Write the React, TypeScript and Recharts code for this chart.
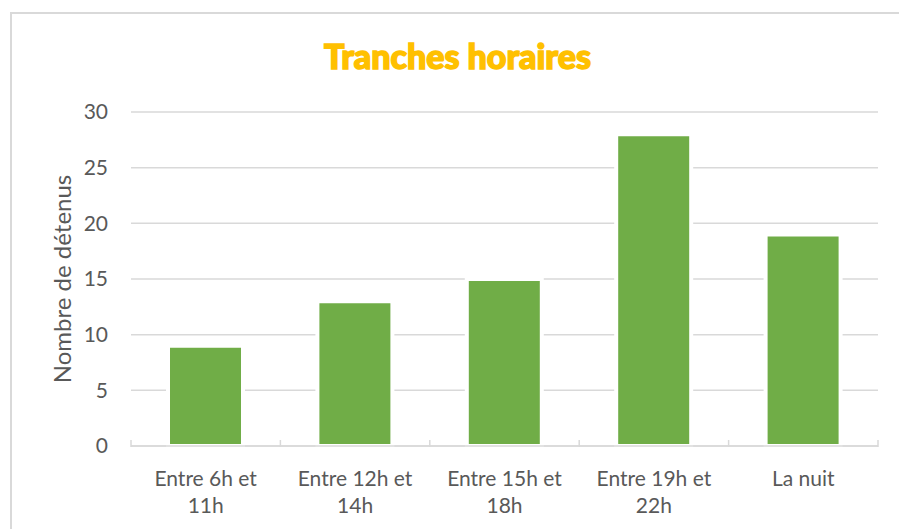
import { Bar, BarChart, CartesianGrid, XAxis, YAxis } from "recharts";

const categories = ["Entre 6h et 11h", "Entre 12h et 14h", "Entre 15h et 18h", "Entre 19h et 22h", "La nuit"];
const detenus = [9, 13, 15, 28, 19];
const yTicks = [0, 5, 10, 15, 20, 25, 30];

const data = categories.map((c, i) => ({ name: c, v: detenus[i] }));

const W = 899;
const H = 529;
const PLOT_LEFT = 131;
const PLOT_RIGHT = 878;
const FONT = "Lato, 'Open Sans', sans-serif";
const TEXT = "#595959";
const GRID = "#D9D9D9";

const band = (PLOT_RIGHT - PLOT_LEFT) / categories.length;

function splitLabel(s: string) {
  const w = s.split(" ");
  if (w.length <= 2) return [s];
  return [w.slice(0, -1).join(" "), w[w.length - 1]];
}

function CatTick(props: any) {
  const { x, y, payload, index } = props;
  const lines = splitLabel(String(payload.value));
  const isLast = index === categories.length - 1;
  return (
    <g>
      <line x1={x - band / 2} x2={x - band / 2} y1={y - 8} y2={y - 1} stroke={GRID} strokeWidth={1.5} />
      {isLast && (
        <line x1={x + band / 2} x2={x + band / 2} y1={y - 8} y2={y - 1} stroke={GRID} strokeWidth={1.5} />
      )}
      {lines.map((l, i) => (
        <text key={i} x={x} y={y + 38 + i * 27} textAnchor="middle" fill={TEXT} fontSize={21} fontFamily={FONT}>
          {l}
        </text>
      ))}
    </g>
  );
}

export default function App() {
  return (
    <div style={{ position: "relative", width: W, height: H, overflow: "hidden", background: "#fff" }}>
      <style>{`body{margin:0;overflow:hidden}`}</style>
      <div
        style={{
          position: "absolute",
          left: 10,
          top: 12,
          width: 900,
          height: 540,
          border: `2px solid ${GRID}`,
          boxSizing: "border-box",
        }}
      />
      <div
        style={{
          position: "absolute",
          left: 0,
          width: W,
          top: 35,
          textAlign: "center",
          fontFamily: FONT,
          fontWeight: 900,
          fontSize: 34,
          color: "#FFC000",
          WebkitTextStroke: "1.5px #FFC000",
          paddingLeft: 16,
          boxSizing: "border-box",
        }}
      >
        Tranches horaires
      </div>
      <div
        style={{
          position: "absolute",
          left: 61,
          top: 279,
          transform: "translate(-50%, -50%) rotate(-90deg)",
          whiteSpace: "nowrap",
          fontFamily: FONT,
          fontSize: 24,
          color: TEXT,
        }}
      >
        Nombre de détenus
      </div>
      <div style={{ position: "absolute", left: 0, top: 0 }}>
        <BarChart
          width={W}
          height={H}
          data={data}
          margin={{ top: 112, right: W - PLOT_RIGHT, bottom: 13, left: PLOT_LEFT - 60 }}
          barCategoryGap={0}
        >
          <CartesianGrid vertical={false} stroke={GRID} strokeWidth={1.5} />
          <YAxis
            width={60}
            domain={[0, 30]}
            ticks={yTicks}
            axisLine={false}
            tickLine={false}
            tickSize={0}
            tickMargin={23}
            tick={{ fill: TEXT, fontSize: 21, fontFamily: FONT }}
            interval={0}
          />
          <XAxis
            dataKey="name"
            height={70}
            interval={0}
            axisLine={{ stroke: GRID, strokeWidth: 1.5 }}
            tickLine={false}
            tickSize={0}
            tick={<CatTick />}
          />
          <Bar dataKey="v" fill="#70AD47" barSize={75} stroke="#ffffff" strokeWidth={4} isAnimationActive={false} />
        </BarChart>
      </div>
    </div>
  );
}
